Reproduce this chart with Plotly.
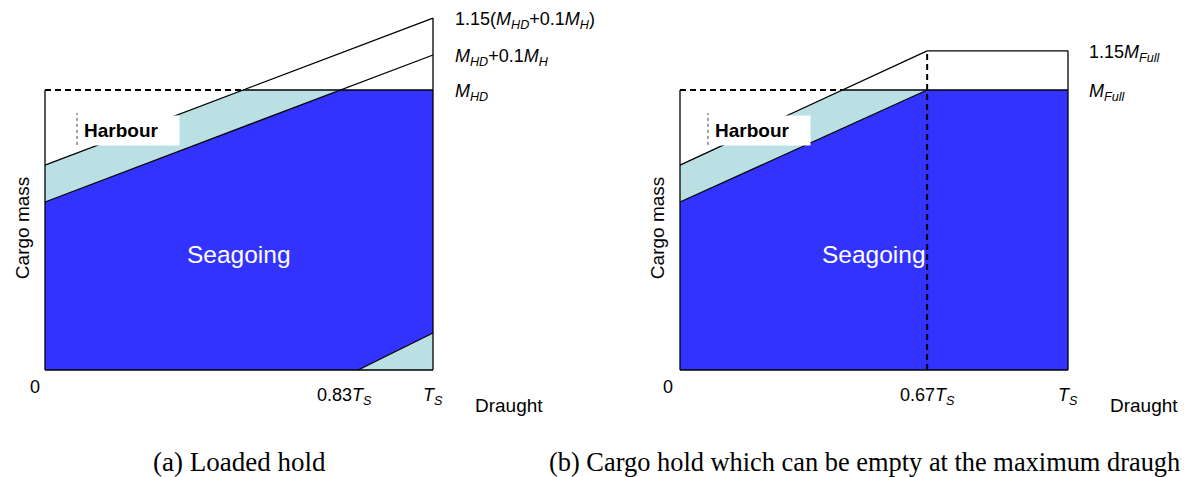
import plotly.graph_objects as go

# ---------------- data (draught as fraction of T_S, mass as fraction of M_HD / M_Full) ----
# Panel (a): loaded hold
a_draught = [0.0, 1.0]
a_seagoing = [0.60, 1.125]        # seagoing limit line, ends at M_HD + 0.1 M_H
a_harbour = [0.732, 1.257]        # harbour limit line, ends at 1.15(M_HD + 0.1 M_H)
a_mhd = 1.0
a_tri_x = [0.807, 1.0]            # lower-right limit (0.83 T_S)
a_tri_y = [0.0, 0.132]

# Panel (b): hold which can be empty at maximum draught
b_break = 0.637                   # 0.67 T_S
b_seagoing = [0.60, 1.0]
b_harbour = [0.732, 1.14]
b_full = 1.0                      # M_Full
b_top = 1.14                      # 1.15 M_Full

a_right_labels = ["1.15(<i>M</i><sub><i>HD</i></sub>+0.1<i>M</i><sub><i>H</i></sub>)",
                  "<i>M</i><sub><i>HD</i></sub>+0.1<i>M</i><sub><i>H</i></sub>",
                  "<i>M</i><sub><i>HD</i></sub>"]
b_right_labels = ["1.15<i>M</i><sub><i>Full</i></sub>", "<i>M</i><sub><i>Full</i></sub>"]
a_tick_labels = ["0", "0.83<i>T</i><sub><i>S</i></sub>", "<i>T</i><sub><i>S</i></sub>"]
b_tick_labels = ["0", "0.67<i>T</i><sub><i>S</i></sub>", "<i>T</i><sub><i>S</i></sub>"]
captions = ["(a) Loaded hold", "(b) Cargo hold which can be empty at the maximum draught"]

BLUE = "rgb(51,51,255)"
CYAN = "rgb(187,224,227)"
FONT = "Liberation Sans, Arial, sans-serif"
SERIF = "Liberation Serif, Times New Roman, serif"

W, H = 1189, 477
OFF = 8.0                 # page body margin offset
fig = go.Figure()


def cross(y0, y1, x0, x1, level):
    return x0 + (level - y0) / (y1 - y0) * (x1 - x0)


def poly(xs, ys, color, ax):
    fig.add_trace(go.Scatter(x=xs, y=ys, fill="toself", fillcolor=color, mode="none",
                             hoverinfo="skip", showlegend=False, xaxis=ax[0], yaxis=ax[1]))


def line(xs, ys, ax, dash="solid", width=1.3, color="black"):
    fig.add_trace(go.Scatter(x=xs, y=ys, mode="lines", line=dict(color=color, width=width, dash=dash),
                             hoverinfo="skip", showlegend=False, xaxis=ax[0], yaxis=ax[1]))


# ---------------- panel (a) ----------------
A = ("x", "y")
xa_s = cross(a_seagoing[0], a_seagoing[1], a_draught[0], a_draught[1], a_mhd)
xa_h = cross(a_harbour[0], a_harbour[1], a_draught[0], a_draught[1], a_mhd)
poly([0, 0, xa_s, 1, 1, a_tri_x[0], 0], [0, a_seagoing[0], a_mhd, a_mhd, a_tri_y[1], 0, 0], BLUE, A)
poly([0, 0, xa_h, xa_s, 0], [a_seagoing[0], a_harbour[0], a_mhd, a_mhd, a_seagoing[0]], CYAN, A)
poly([a_tri_x[0], 1, 1, a_tri_x[0]], [0, 0, a_tri_y[1], 0], CYAN, A)
line([0, 0], [0, a_mhd], A)
line([0, 1], [0, 0], A)
line([1, 1], [0, a_harbour[1]], A)
line(a_draught, a_harbour, A)
line(a_draught, a_seagoing, A)
line([xa_h, 1], [a_mhd, a_mhd], A)
line([0, xa_h], [a_mhd, a_mhd], A, dash="6px,4px", width=2)
line(a_tri_x, a_tri_y, A)
line([0.0825, 0.0825], [0.804, 0.918], A, dash="dot", width=1, color="#444")

# ---------------- panel (b) ----------------
B = ("x2", "y2")
xb_h = cross(b_harbour[0], b_harbour[1], 0, b_break, b_full)
poly([0, 0, b_break, 1, 1, 0], [0, b_seagoing[0], b_full, b_full, 0, 0], BLUE, B)
poly([0, 0, xb_h, b_break, 0], [b_seagoing[0], b_harbour[0], b_full, b_full, b_seagoing[0]], CYAN, B)
line([0, 0], [0, b_full], B)
line([0, 1], [0, 0], B)
line([1, 1], [0, b_top], B)
line([b_break, 1], [b_top, b_top], B)
line([0, b_break], b_harbour, B)
line([0, b_break], b_seagoing, B)
line([xb_h, 1], [b_full, b_full], B)
line([0, xb_h], [b_full, b_full], B, dash="6px,4px", width=2)
line([b_break, b_break], [0, b_top], B, dash="6px,4px", width=2)
line([0.072, 0.072], [0.804, 0.918], B, dash="dot", width=1, color="#444")

# ---------------- axes placement ----------------
UX, UY = 388.0, 280.0     # pixels per unit
X0 = {"x": 45.0 - OFF, "x2": 680.0 - OFF}
Y0 = 370.0 - OFF
xr = [-0.05, 1.05]
yr = [-0.05, Y0 / UY]


def xdom(x0):
    return [(x0 + xr[0] * UX) / W, (x0 + xr[1] * UX) / W]


ydom = [(H - (Y0 - yr[0] * UY)) / H, 1.0]
hid = dict(visible=False, showgrid=False, zeroline=False, fixedrange=True)
fig.update_layout(
    width=W, height=H, margin=dict(l=0, r=0, t=0, b=0),
    paper_bgcolor="white", plot_bgcolor="white", showlegend=False,
    xaxis=dict(domain=xdom(X0["x"]), range=xr, anchor="y", **hid),
    yaxis=dict(domain=ydom, range=yr, anchor="x", **hid),
    xaxis2=dict(domain=xdom(X0["x2"]), range=xr, anchor="y2", **hid),
    yaxis2=dict(domain=ydom, range=yr, anchor="x2", **hid),
)

ann = []


def txt(x, y, s, ax, size=18, color="black", xanchor="center", yanchor="middle", family=FONT, **kw):
    # convert panel data coordinates to paper coordinates (annotations may lie outside the axes)
    px = X0[ax[0]] + x * UX
    py = Y0 - y * UY
    ann.append(dict(x=px / W, y=1 - py / H, xref="paper", yref="paper", text=s, showarrow=False,
                    xanchor=xanchor, yanchor=yanchor, font=dict(family=family, size=size, color=color), **kw))


for ax, labels, ylev, tickx, ticks, xlab in [
    (A, a_right_labels, [a_harbour[1], a_seagoing[1], a_mhd], [-0.026, 0.771, 1.0], a_tick_labels, 1.052),
    (B, b_right_labels, [b_top, b_full], [-0.030, b_break, 1.0], b_tick_labels, 1.049),
]:
    for s, yv in zip(labels, ylev):
        txt(xlab, yv - 0.01, s, ax, size=18, xanchor="left")
    for s, xv in zip(ticks, tickx):
        txt(xv, -0.062 if s == "0" else -0.095, s, ax, size=18)
    txt(1.196, -0.125, "Draught", ax, size=19)
    txt(-0.059, 0.507, "Cargo mass", ax, size=19, textangle=-90)
    txt(0.5, 0.414, "Seagoing", ax, size=24.5, color="white")

txt(0.0876, 0.857, "<b>Harbour</b>", A, size=19, xanchor="left", bgcolor="white", borderpad=4, width=91, align="left")
txt(0.077, 0.857, "<b>Harbour</b>", B, size=19, xanchor="left", bgcolor="white", borderpad=4, width=91, align="left")

cap_y = 1 - (462 - OFF) / H
ann.append(dict(x=(239 - OFF) / W, y=cap_y, xref="paper", yref="paper", text=captions[0], showarrow=False,
                xanchor="center", yanchor="middle", font=dict(family=SERIF, size=27, color="black")))
ann.append(dict(x=(547 - OFF) / W, y=cap_y, xref="paper", yref="paper", text=captions[1], showarrow=False,
                xanchor="left", yanchor="middle", font=dict(family=SERIF, size=26.4, color="black")))
fig.update_layout(annotations=ann)

fig.write_html("out.html")
